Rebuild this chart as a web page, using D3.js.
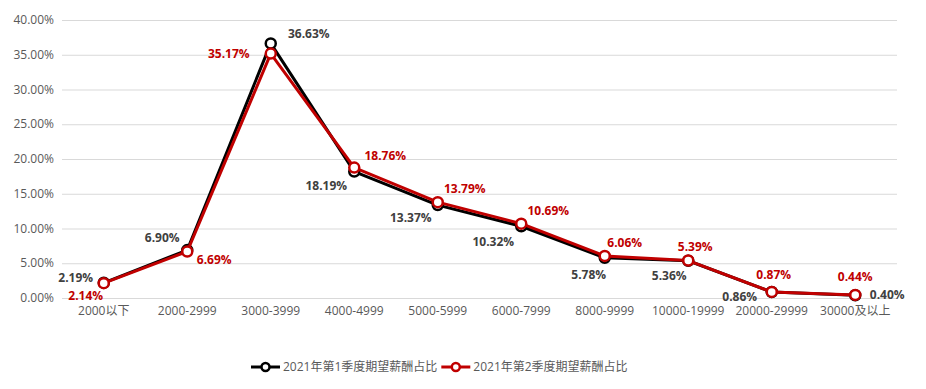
<!DOCTYPE html>
<html>
<head>
<meta charset="utf-8">
<script src="https://cdn.jsdelivr.net/npm/d3@7"></script>
<style>
  body { margin: 0; background: #fff; }
  text { font-family: "Open Sans", "Noto Sans CJK SC", sans-serif; }
</style>
</head>
<body>
<svg id="chart" width="926" height="389"></svg>
<script>
const categories = ["2000以下", "2000-2999", "3000-3999", "4000-4999", "5000-5999",
  "6000-7999", "8000-9999", "10000-19999", "20000-29999", "30000及以上"];
const q1Values = [2.19, 6.90, 36.63, 18.19, 13.37, 10.32, 5.78, 5.36, 0.86, 0.40];
const q2Values = [2.14, 6.69, 35.17, 18.76, 13.79, 10.69, 6.06, 5.39, 0.87, 0.44];
const yTicks = [0, 5, 10, 15, 20, 25, 30, 35, 40];
const seriesNames = ["2021年第1季度期望薪酬占比", "2021年第2季度期望薪酬占比"];

// label offsets from the point (dx, dy), one per point
const q1Offsets = [[-28, -5], [-25, -12], [38, -10], [-28, 14], [-27, 13], [-28, 16], [-16, 17], [-19, 15], [-32, 5], [32, 0]];
const q2Offsets = [[-18, 13], [27, 8], [-42, 0], [31, -12], [27, -13], [27, -13], [20, -13], [7, -14], [2, -17], [0, -18]];

const svg = d3.select("#chart");
const margin = {left: 62, right: 29, top: 20, bottom: 91};
const width = 926, height = 389;

const x = d3.scaleBand().domain(categories).range([margin.left, width - margin.right]);
const y = d3.scaleLinear().domain([0, 40]).range([height - margin.bottom, margin.top]);
const cx = d => x(d) + x.bandwidth() / 2;

// gridlines
svg.append("g").selectAll("line").data(yTicks).join("line")
  .attr("x1", margin.left).attr("x2", width - margin.right)
  .attr("y1", d => y(d) + 0.5).attr("y2", d => y(d) + 0.5)
  .attr("stroke", "#d9d9d9").attr("stroke-width", 1);

// y axis labels
svg.append("g").selectAll("text").data(yTicks).join("text")
  .attr("x", margin.left - 8).attr("y", d => y(d)).attr("dy", "0.35em")
  .attr("text-anchor", "end").attr("font-size", 12).attr("fill", "#595959")
  .text(d => d.toFixed(2) + "%");

// x axis labels
svg.append("g").selectAll("text").data(categories).join("text")
  .attr("x", d => cx(d)).attr("y", y(0) + 17)
  .attr("text-anchor", "middle").attr("font-size", 12).attr("fill", "#595959")
  .text(d => d);

const series = [
  {values: q1Values, color: "#000000", label: "#404040", offsets: q1Offsets},
  {values: q2Values, color: "#c00000", label: "#c00000", offsets: q2Offsets}
];

const line = d3.line().x((d, i) => cx(categories[i])).y(d => y(d));

series.forEach(s => {
  svg.append("path").datum(s.values)
    .attr("d", line).attr("fill", "none")
    .attr("stroke", s.color).attr("stroke-width", 3).attr("stroke-linejoin", "round");
  svg.append("g").selectAll("circle").data(s.values).join("circle")
    .attr("cx", (d, i) => cx(categories[i])).attr("cy", d => y(d)).attr("r", 5)
    .attr("fill", "#fff").attr("stroke", s.color).attr("stroke-width", 2.5);
});

series.forEach(s => {
  svg.append("g").selectAll("text").data(s.values).join("text")
    .attr("x", (d, i) => cx(categories[i]) + s.offsets[i][0])
    .attr("y", (d, i) => y(d) + s.offsets[i][1]).attr("dy", "0.35em")
    .attr("text-anchor", "middle").attr("font-size", 12).attr("font-weight", "bold")
    .attr("fill", s.label)
    .text(d => d.toFixed(2) + "%");
});

// legend
const legend = svg.append("g");
let lx = 251;
seriesNames.forEach((name, i) => {
  const g = legend.append("g");
  g.append("line").attr("x1", lx).attr("x2", lx + 29).attr("y1", 367).attr("y2", 367)
    .attr("stroke", series[i].color).attr("stroke-width", 3);
  g.append("circle").attr("cx", lx + 14.5).attr("cy", 367).attr("r", 4)
    .attr("fill", "#fff").attr("stroke", series[i].color).attr("stroke-width", 2.5);
  const t = g.append("text").attr("x", lx + 32).attr("y", 367).attr("dy", "0.35em")
    .attr("font-size", 12).attr("fill", "#595959").text(name);
  lx += 32 + t.node().getComputedTextLength() + 4;
});
</script>
</body>
</html>
